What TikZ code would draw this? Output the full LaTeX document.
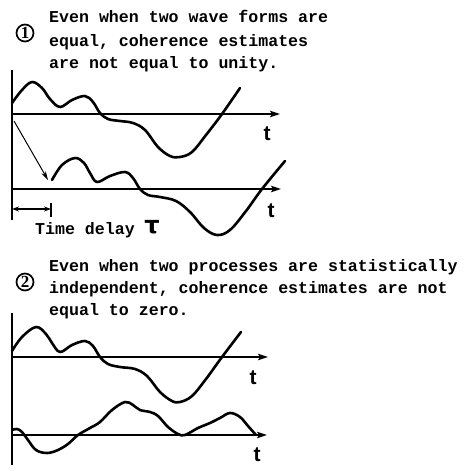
\documentclass[tikz,border=0pt]{standalone}
\usepackage{fontspec}
\setmainfont{Liberation Serif}
\newfontfamily\tw{Liberation Mono}
\newfontfamily\tsans{Liberation Sans}
\newfontfamily\dvs{DejaVu Sans}
\usetikzlibrary{arrows.meta}
\begin{document}
\begin{tikzpicture}[x=1pt,y=-1pt,
  txt/.style={anchor=base west, inner sep=0pt, font=\tw\bfseries\fontsize{16.6}{20}\selectfont},
  num/.style={circle, draw, line width=1.7pt, minimum size=17pt, inner sep=0pt, font=\bfseries\fontsize{17}{17}\selectfont},
  tlab/.style={inner sep=0pt, font=\tsans\bfseries\fontsize{21}{21}\selectfont},
  axisline/.style={line width=1.5pt},
  arr/.style={-{Stealth[length=10pt,width=6.5pt,inset=2pt]}},
  wave/.style={line width=2.6pt, line cap=round, line join=round}
]
\useasboundingbox (0,0) rectangle (467,472);

% ---- Section 1 ----
\node[num] (n1) at (25,33) {1};
\node[txt] (s1a) at (49,22.5) {Even when two wave forms are};
\node[txt] (s1b) at (49,46) {equal, coherence estimates};
\node[txt] (s1c) at (49,68.5) {are not equal to unity.};

\coordinate (v1t) at (12,70);
\coordinate (v1b) at (12,220);
\draw[axisline] (v1t) -- (v1b);

\coordinate (a1s) at (12,114);
\coordinate (a1e) at (280,114);
\draw[axisline,arr] (a1s) -- (a1e);
\node[tlab] (t1) at (267,134) {t};

\coordinate (b1s) at (12,189);
\coordinate (b1e) at (281,189);
\draw[axisline,arr] (b1s) -- (b1e);
\node[tlab] (t2) at (271,211) {t};

\draw[wave] plot[smooth, tension=0.6] coordinates {
 (12,103) (22,90) (32,82) (42,88) (50,99) (60,107) (72,100) (85,96) (93,102)
 (100,113) (108,119) (120,121) (133,123) (145,130) (158,147) (170,156) (180,157)
 (192,152) (206,135) (222,114) (240,88)};

\draw[wave] plot[smooth, tension=0.6] coordinates {
 (52,180) (62,165) (75,158) (84,163) (90,173) (97,182) (110,176) (125,172) (133,178)
 (140,189) (148,195) (160,197) (176,201) (190,212) (204,228) (217,235)
 (230,230) (246,211) (262,189) (285,161)};

\coordinate (d1) at (14,121);
\coordinate (d2) at (48,180);
\draw[line width=1pt, -{Stealth[length=9pt,width=5pt]}] (d1) -- (d2);

\coordinate (tk1) at (51,203);
\coordinate (tk2) at (51,217);
\draw[line width=1.4pt] (tk1) -- (tk2);
\coordinate (tl) at (12,209);
\coordinate (tr) at (51,209);
\draw[line width=1.1pt, {Stealth[length=7pt,width=5pt]}-{Stealth[length=7pt,width=5pt]}] (tl) -- (tr);

\node[txt] (td) at (35,234.5) {Time delay};
\node[inner sep=0pt, font=\dvs\bfseries\fontsize{24}{24}\selectfont] (tau) at (152,227) {τ};

% ---- Section 2 ----
\node[num] (n2) at (25,282) {2};
\node[txt] (s2a) at (49,271.5) {Even when two processes are statistically};
\node[txt] (s2b) at (49,293.5) {independent, coherence estimates are not};
\node[txt] (s2c) at (49,315.5) {equal to zero.};

\coordinate (v2t) at (12,313);
\coordinate (v2b) at (12,465);
\draw[axisline] (v2t) -- (v2b);

\coordinate (a2s) at (12,357);
\coordinate (a2e) at (268,357);
\draw[axisline,arr] (a2s) -- (a2e);
\node[tlab] (t3) at (253,378) {t};

\coordinate (b2s) at (12,435);
\coordinate (b2e) at (267,435);
\draw[axisline,arr] (b2s) -- (b2e);
\node[tlab] (t4) at (257,455) {t};

\draw[wave] plot[smooth, tension=0.6] coordinates {
 (12,351) (22,337) (36,327) (46,334) (52,343) (60,352) (72,345) (85,341) (93,346)
 (100,357) (108,364) (120,367) (135,369) (147,376) (160,392) (172,401) (180,402)
 (192,396) (206,379) (222,357) (241,332)};

\draw[wave] plot[smooth, tension=0.6] coordinates {
 (12,430) (17,429) (22,432) (28,440) (36,450) (47,453) (58,450) (68,444) (78,435)
 (90,428) (100,422) (112,410) (125,402) (133,405) (140,410) (150,412) (158,416)
 (168,427) (178,434) (185,435) (198,428) (210,423) (220,418) (230,413) (240,417)
 (248,426) (256,435)};
\end{tikzpicture}
\end{document}
